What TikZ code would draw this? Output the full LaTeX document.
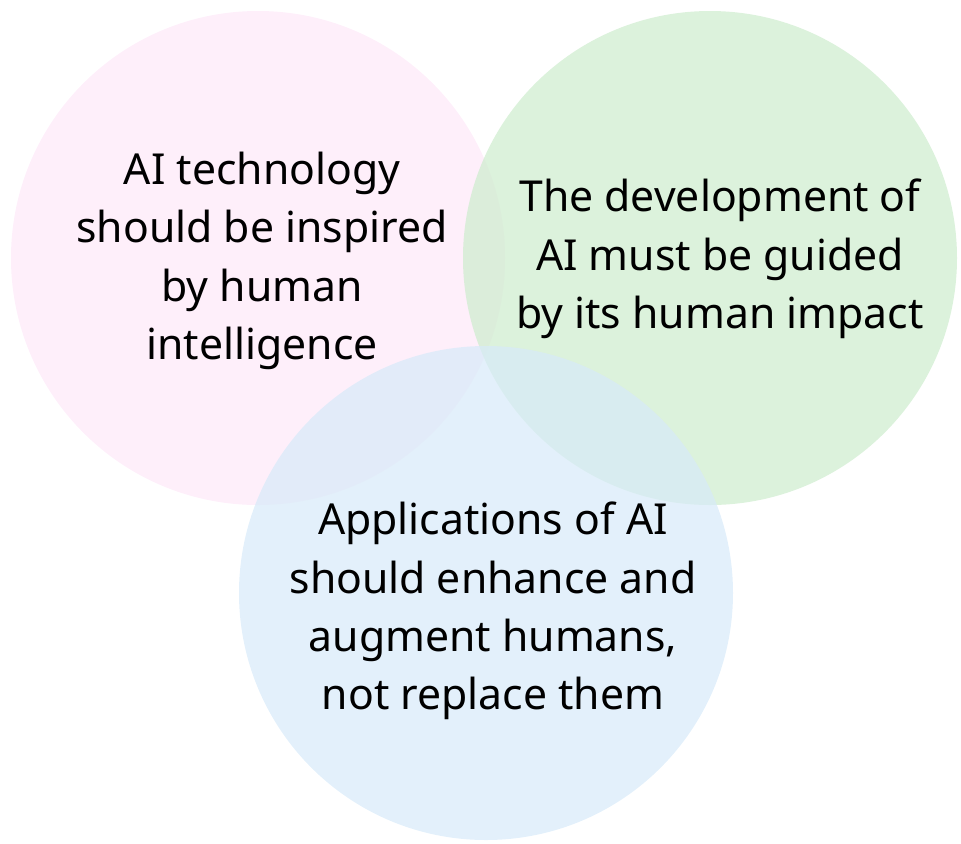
\documentclass[tikz,border=0pt]{standalone}
\usepackage{fontspec}
\setmainfont{Noto Sans}
\definecolor{pinkfill}{RGB}{253,232,248}
\definecolor{greenfill}{RGB}{205,236,205}
\definecolor{bluefill}{RGB}{215,234,249}
\begin{document}
\begin{tikzpicture}[x=0.02cm, y=-0.02cm]
            \tikzstyle{circ}=[fill opacity=0.7, draw=none]
            \tikzstyle{every node}=[align=center, text=black, font=\fontsize{24.3}{33.2}\selectfont]

            \useasboundingbox (0,0) rectangle (961,843);

            \fill[circ, pinkfill] (258,258) circle (247);
            \fill[circ, greenfill] (710,258) circle (247);
            \fill[circ, bluefill] (486,593) circle (247);

            \node (tech) at (262,261) {AI technology\\should be inspired\\by human\\intelligence};
            \node (dev) at (720,259) {The development of\\AI must be guided\\by its human impact};
            \node (app) at (493,611) {Applications of AI\\should enhance and\\augment humans,\\not replace them};
        \end{tikzpicture}
\end{document}
